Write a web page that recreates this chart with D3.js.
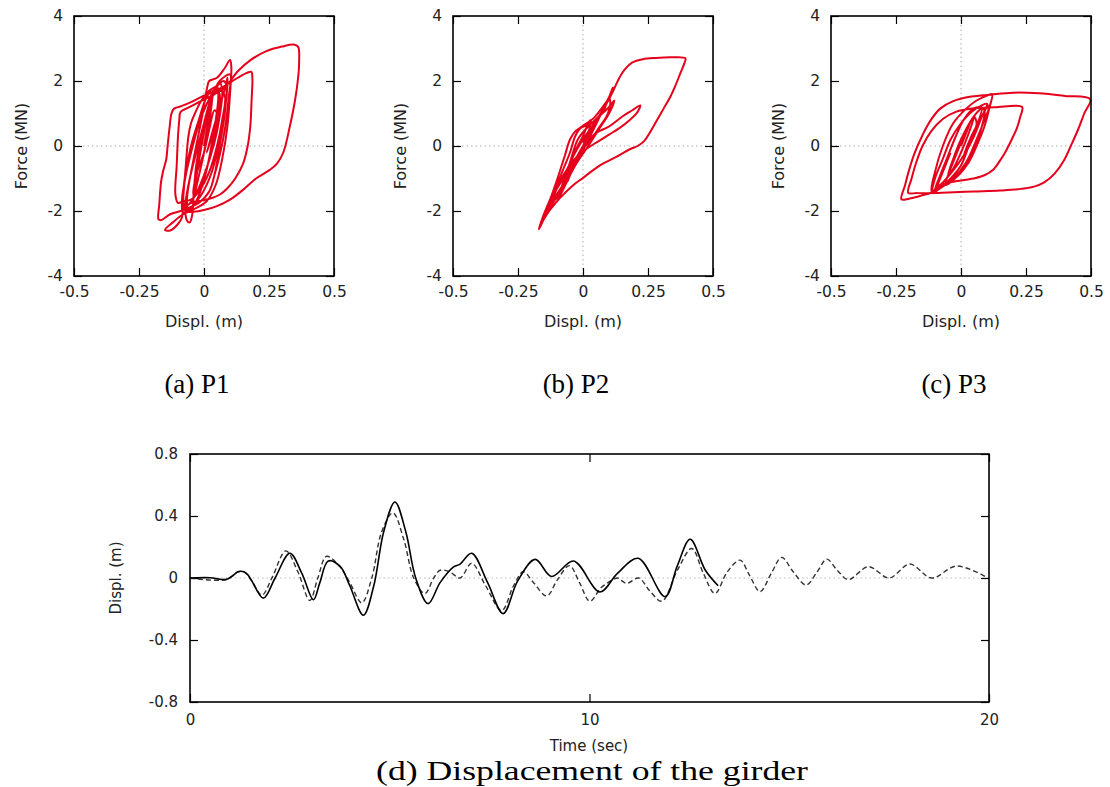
<!DOCTYPE html>
<html>
<head>
<meta charset="utf-8">
<script src="https://cdn.jsdelivr.net/npm/d3@7"></script>
<style>
  body { margin: 0; background: #fff; }
  .tick text { fill: #222; }
  .caption { font-family: "Liberation Serif", "Times New Roman", Times, serif; }
</style>
</head>
<body>
<script>
// hysteresis loops, [displ (m), force (MN)]
const p1Loop = [
  [0,0],[0.015,0.7],[0.03,1.4],[0.035,1.7],[0.025,1.0],[0,-0.2],[-0.025,-1.1],[-0.04,-1.6],[-0.03,-1.0],[-0.005,0.2],[0.025,1.3],[0.05,1.85],[0.055,1.5],[0.035,0.3],[0.005,-0.9],[-0.03,-1.7],[-0.06,-2.0],[-0.065,-1.6],[-0.04,-0.4],[-0.01,0.8],[0.015,1.9],[0.02,2.0],
  [0.05,2.1],[0.08,2.4],[0.1,2.65],[0.105,2.45],[0.1,1.6],[0.09,0.6],[0.07,-0.4],[0.045,-1.2],[0.01,-1.7],[-0.04,-1.95],[-0.08,-2.1],
  [-0.12,-2.35],[-0.15,-2.58],[-0.13,-2.6],[-0.1,-2.4],[-0.085,-2.2],[-0.08,-1.6],[-0.07,-0.6],[-0.06,0.3],[-0.05,0.7],[-0.035,1.0],[-0.01,1.4],[0.02,1.7],[0.05,1.85],[0.075,2.0],[0.085,1.9],[0.08,1.0],[0.06,0],[0.04,-0.9],[0.02,-1.4],[-0.02,-1.75],[-0.06,-1.9],[-0.09,-2.0],[-0.13,-2.1],[-0.165,-2.28],[-0.175,-2.25],
  [-0.172,-1.8],[-0.165,-1.1],[-0.158,-0.8],[-0.145,-0.4],[-0.14,0],[-0.132,0.6],[-0.125,1.0],[-0.115,1.15],[-0.09,1.22],[-0.05,1.35],[0,1.55],[0.04,1.68],[0.08,1.85],[0.13,2.1],[0.165,2.25],[0.182,2.28],[0.186,2.1],[0.183,1.4],[0.178,0.6],[0.168,0],[0.15,-0.55],[0.12,-1.0],[0.09,-1.3],[0.06,-1.5],[0.03,-1.6],[-0.01,-1.68],[-0.05,-1.75],[-0.07,-1.9],[-0.065,-2.3],[-0.055,-2.35],[-0.045,-2.1],[-0.04,-1.5],
  [-0.03,-0.6],[-0.01,0.3],[0.01,1.0],[0.03,1.5],[0.06,1.7],[0.08,1.55],[0.07,0.8],[0.05,0],[0.02,-0.8],[-0.02,-1.4],[-0.05,-1.65],[-0.08,-1.7],[-0.1,-1.75],[-0.11,-1.5],[-0.105,-0.6],[-0.1,0.3],[-0.095,0.8],[-0.09,1.05],[-0.06,1.18],[-0.02,1.35],[0.03,1.55],[0.08,1.8],
  [0.13,2.3],[0.18,2.65],[0.24,2.92],[0.3,3.06],[0.345,3.12],[0.362,3.05],[0.366,2.6],[0.362,2.1],[0.35,1.4],[0.33,0.6],[0.305,-0.2],[0.28,-0.55],[0.25,-0.75],[0.2,-1.0],[0.15,-1.35],[0.1,-1.65],[0.05,-1.85],[0,-1.97],[-0.04,-2.02],[-0.07,-2.0],[-0.08,-1.5],
  [-0.07,-0.8],[-0.05,0],[-0.02,0.8],[0.01,1.5],[0.04,1.8],[0.06,1.6],[0.05,0.8],[0.03,0],[0.01,-0.7],[-0.02,-1.3],[-0.04,-1.5],[-0.03,-0.9],[0,-0.2],[0.02,0.5],[0.04,1.1],[0.05,1.0],[0.03,0.3],[0.01,-0.2],
  [0.06,1.2],[0.085,1.9],[0.09,2.1],[0.085,1.4],[0.06,0.2],[0.03,-0.8],[-0.01,-1.5],[-0.05,-1.9],[-0.08,-2.05],[-0.085,-1.7],[-0.07,-0.9],[-0.04,0.1],[-0.01,0.9],[0.03,1.6],[0.06,1.95],[0.07,1.7],[0.06,0.9],[0.04,0.1],[0,-0.9],[-0.04,-1.6],[-0.07,-1.85],[-0.06,-1.2],[-0.03,-0.2],[0,0.7],[0.02,1.3],[0.04,1.7],[0.06,2.0],[0.1,2.2],[0.095,1.5],[0.08,0.5],[0.06,-0.3],[0.04,-0.9]
];

const p2Loop = [
  [0,0],[0.02,0.3],[0.04,0.5],[0.02,0.2],[-0.02,-0.4],[-0.05,-0.9],[-0.06,-1.1],[-0.04,-0.6],[0,0],[0.03,0.5],[0.05,0.7],[0.03,0.4],[-0.01,-0.3],[-0.05,-0.9],[-0.08,-1.4],[-0.1,-1.7],[-0.08,-1.2],[-0.05,-0.5],[-0.02,0.2],[0.02,0.6],[0.06,0.9],[0.1,1.2],[0.12,1.4],[0.1,1.0],[0.06,0.5],[0.02,0],[-0.03,-0.6],[-0.07,-1.2],[-0.12,-1.8],[-0.15,-2.2],[-0.17,-2.55],
  [-0.15,-2.1],[-0.12,-1.5],[-0.09,-0.8],[-0.07,-0.3],[-0.05,0.2],[-0.03,0.45],[0,0.62],[0.04,0.85],[0.08,1.25],[0.11,1.6],[0.125,1.85],[0.14,2.1],[0.16,2.35],[0.19,2.57],[0.23,2.67],[0.28,2.71],[0.34,2.73],[0.394,2.7],[0.39,2.55],[0.375,2.25],[0.355,1.85],[0.335,1.5],[0.31,1.15],[0.285,0.8],[0.26,0.45],[0.235,0.15],[0.21,0],[0.18,-0.1],[0.13,-0.33],[0.08,-0.53],[0.05,-0.68],[0,-0.98],[-0.04,-1.22],[-0.07,-1.45],[-0.1,-1.7],[-0.13,-2.0],[-0.15,-2.25],[-0.17,-2.56],
  [-0.14,-1.9],[-0.1,-1.3],[-0.06,-0.7],[-0.03,-0.2],[0,0.2],[0.03,0.55],[0.06,0.9],[0.09,1.3],[0.11,1.6],[0.115,1.8],[0.1,1.5],[0.07,1.0],[0.04,0.5],[0,0],[-0.04,-0.55],[-0.08,-1.05],[-0.12,-1.6],[-0.14,-2.0],[-0.11,-1.6],[-0.07,-1.1],[-0.03,-0.5],[0.01,0.1],[0.05,0.4],
  [0.1,0.6],[0.15,0.9],[0.19,1.1],[0.22,1.25],[0.21,1.05],[0.18,0.8],[0.14,0.55],[0.1,0.35],[0.06,0.15],[0.02,-0.05],[-0.02,-0.3],[-0.06,-0.7],[-0.09,-1.1],[-0.11,-1.5],[-0.12,-1.7],
  [-0.1,-1.2],[-0.07,-0.6],[-0.05,-0.2],[-0.03,0.3],[-0.01,0.55],[0.02,0.65],[0.05,0.8],[0.08,1.1],[0.1,1.5],[0.105,1.3],[0.09,0.9],[0.06,0.55],[0.04,0.3],[0,-0.1],[-0.04,-0.6],[-0.07,-1.0],[-0.05,-0.6],[-0.03,-0.15],[0,0.3],[0.02,0.7],[0.03,0.8],[0.02,0.4],[0,0.1]
];

const p3Loop = [
  [0,0],[0.02,0.4],[0.04,0.8],[0.05,0.9],[0.03,0.4],[0,-0.2],[-0.03,-0.7],[-0.05,-0.9],[-0.03,-0.4],[0,0.2],[0.04,0.8],[0.07,1.1],[0.08,1.15],[0.06,0.6],[0.03,0],[0,-0.6],[-0.04,-1.0],[-0.08,-1.3],[-0.1,-1.4],
  [-0.15,-1.52],[-0.2,-1.62],[-0.229,-1.64],[-0.215,-1.2],[-0.2,-0.75],[-0.18,-0.25],[-0.15,0.3],[-0.12,0.75],[-0.08,1.15],[-0.03,1.38],[0.04,1.52],[0.113,1.58],[0.2,1.64],[0.3,1.62],[0.4,1.54],[0.497,1.44],
  [0.474,1.0],[0.45,0.5],[0.425,0.05],[0.397,-0.43],[0.36,-0.85],[0.32,-1.12],[0.281,-1.25],[0.22,-1.33],[0.15,-1.37],[0.05,-1.4],[-0.05,-1.43],[-0.12,-1.45],[-0.17,-1.45],[-0.203,-1.44],
  [-0.19,-1.0],[-0.172,-0.5],[-0.148,0],[-0.115,0.45],[-0.07,0.83],[-0.02,1.05],[0.05,1.16],[0.13,1.19],[0.235,1.2],[0.228,0.9],[0.215,0.55],[0.195,0.2],[0.175,-0.12],[0.15,-0.45],[0.125,-0.72],[0.09,-0.9],[0.048,-1.0],[-0.03,-1.1],[-0.08,-1.2],[-0.113,-1.4],
  [-0.1,-0.8],[-0.07,0],[-0.03,0.7],[0.02,1.15],[0.06,1.4],[0.1,1.55],[0.12,1.6],[0.11,1.2],[0.09,0.6],[0.06,0],[0.03,-0.5],[-0.01,-0.9],[-0.05,-1.15],[-0.09,-1.3],[-0.1,-1.35],
  [-0.08,-0.9],[-0.05,-0.3],[-0.02,0.3],[0.01,0.8],[0.04,1.1],[0.07,1.2],[0.09,1.1],[0.08,0.6],[0.06,0.1],[0.03,-0.4],[0,-0.8],[-0.03,-1.05],[-0.06,-1.2],[-0.04,-0.7],[-0.01,-0.1],[0.02,0.5],[0.05,0.9],[0.06,0.7],[0.04,0.2],[0.01,-0.3],
  [0.04,0.3],[0.08,0.9],[0.1,1.2],[0.11,1.25],[0.09,0.8],[0.06,0.2],[0.02,-0.5],[-0.03,-1.0],[-0.08,-1.3],[-0.11,-1.45],[-0.1,-1.0],[-0.07,-0.4],[-0.04,0.2],[0,0.7],[0.04,1.05],[0.08,1.25],[0.1,1.3],[0.08,0.9],[0.05,0.3],[0.01,-0.3],[-0.04,-0.85],[-0.08,-1.2],[-0.09,-1.25],[-0.07,-0.8],[-0.04,-0.2]
];

// girder displacement, [time (sec), displ (m)]
const girderSolid = [
  [0,0],[0.5,0.002],[0.9,-0.01],[1.05,0.01],[1.2,0.04],[1.35,0.04],[1.45,0.02],[1.55,-0.02],[1.84,-0.13],[2.13,0],[2.5,0.16],[2.8,0.03],[3.09,-0.14],[3.25,-0.03],[3.46,0.11],[3.76,0.075],[4.0,-0.05],[4.34,-0.24],[4.6,-0.05],[4.85,0.3],[5.13,0.49],[5.4,0.3],[5.65,0],[5.96,-0.165],[6.26,-0.03],[6.59,0.07],[6.76,0.09],[7.05,0.16],[7.45,-0.03],[7.84,-0.23],[8.2,-0.02],[8.64,0.12],[9.05,0.01],[9.6,0.11],[10.26,-0.09],[10.7,0.03],[11.22,0.127],[11.89,-0.12],[12.2,0.08],[12.52,0.25],[12.9,0.05],[13.22,-0.05]
];
const girderDashed = [
  [0,0],[0.9,-0.01],[1.2,0.04],[1.35,0.04],[1.55,-0.02],[1.8,-0.11],[2.05,0],[2.4,0.175],[2.7,0.04],[3.0,-0.145],[3.2,0],[3.42,0.14],[3.76,0.07],[4.0,-0.03],[4.3,-0.16],[4.55,0],[4.8,0.3],[5.08,0.42],[5.35,0.25],[5.6,0],[5.88,-0.1],[6.1,0],[6.26,0.05],[6.5,0.04],[6.76,0],[7.05,0.095],[7.4,-0.05],[7.8,-0.21],[8.1,-0.05],[8.34,0.04],[8.6,-0.03],[8.93,-0.116],[9.2,-0.01],[9.5,0.08],[9.75,-0.03],[10.01,-0.15],[10.3,-0.06],[10.6,-0.01],[10.7,0],[10.93,-0.035],[11.23,0],[11.5,-0.08],[11.81,-0.15],[12.2,0.05],[12.56,0.19],[12.85,0.03],[13.14,-0.1],[13.45,0.04],[13.77,0.115],[14.0,0.02],[14.27,-0.088],[14.55,0.03],[14.81,0.133],[15.1,0.04],[15.42,-0.045],[15.7,0.04],[15.94,0.122],[16.2,0.05],[16.48,-0.01],[16.98,0.073],[17.5,0],[18.02,0.09],[18.56,0],[19.19,0.077],[19.94,0.005]
];

const loopXTicks = [-0.5, -0.25, 0, 0.25, 0.5];
const loopYTicks = [-4, -2, 0, 2, 4];
const timeTicks = [0, 10, 20];
const displTicks = [-0.8, -0.4, 0, 0.4, 0.8];
const captions = ["(a) P1", "(b) P2", "(c) P3", "(d) Displacement of the girder"];

const sans = "'DejaVu Sans', sans-serif";

const svg = d3.select("body").append("svg")
  .attr("width", 1110)
  .attr("height", 787);

function styleAxis(g, size) {
  g.select(".domain").remove();
  g.selectAll(".tick line").attr("stroke", "#000").attr("stroke-width", 1.2);
  g.attr("font-family", sans).attr("font-size", size);
}

// one force-displacement panel
function drawLoop(left, data, caption) {
  var top = 16, side = 260;
  var x = d3.scaleLinear().domain([-0.5, 0.5]).range([left, left + side]);
  var y = d3.scaleLinear().domain([-4, 4]).range([top + side, top]);
  var g = svg.append("g");

  //dotted zero lines
  g.append("line").attr("x1", x(0)).attr("x2", x(0)).attr("y1", top).attr("y2", top + side)
    .attr("stroke", "#aaa").attr("stroke-dasharray", "1.5,3");
  g.append("line").attr("x1", left).attr("x2", left + side).attr("y1", y(0)).attr("y2", y(0))
    .attr("stroke", "#aaa").attr("stroke-dasharray", "1.5,3");

  g.append("g").attr("transform", "translate(0," + (top + side) + ")")
    .call(d3.axisBottom(x).tickValues(loopXTicks).tickSize(-8).tickPadding(10).tickFormat(d => String(d)))
    .call(styleAxis, 15.5);
  g.append("g").attr("transform", "translate(0," + top + ")")
    .call(d3.axisTop(x).tickValues(loopXTicks).tickSize(-8).tickFormat(""))
    .call(styleAxis, 15.5);
  g.append("g").attr("transform", "translate(" + left + ",0)")
    .call(d3.axisLeft(y).tickValues(loopYTicks).tickSize(-8).tickPadding(11).tickFormat(d => String(d)))
    .call(styleAxis, 15.5);
  g.append("g").attr("transform", "translate(" + (left + side) + ",0)")
    .call(d3.axisRight(y).tickValues(loopYTicks).tickSize(-8).tickFormat(""))
    .call(styleAxis, 15.5);

  var line = d3.line()
    .x(d => x(d[0]))
    .y(d => y(d[1]))
    .curve(d3.curveCatmullRom.alpha(0.5));
  g.append("path").datum(data)
    .attr("d", line)
    .attr("fill", "none")
    .attr("stroke", "#e5001c")
    .attr("stroke-width", 2)
    .attr("stroke-linejoin", "round");

  g.append("rect").attr("x", left).attr("y", top).attr("width", side).attr("height", side)
    .attr("fill", "none").attr("stroke", "#000").attr("stroke-width", 1.6);

  g.append("text").attr("x", left + side / 2).attr("y", 327)
    .attr("text-anchor", "middle").attr("font-family", sans).attr("font-size", 16).attr("fill", "#222")
    .text("Displ. (m)");
  g.append("text").attr("transform", "translate(" + (left - 47) + "," + (top + side / 2) + ") rotate(-90)")
    .attr("text-anchor", "middle").attr("font-family", sans).attr("font-size", 16).attr("fill", "#222")
    .text("Force (MN)");
  g.append("text").attr("class", "caption").attr("x", left + side / 2 - 7).attr("y", 393)
    .attr("text-anchor", "middle").attr("font-size", 27).attr("fill", "#000")
    .text(caption);
}

drawLoop(74, p1Loop, captions[0]);
drawLoop(453, p2Loop, captions[1]);
drawLoop(831, p3Loop, captions[2]);

// girder time history
var tx = d3.scaleLinear().domain([0, 20]).range([190, 989]);
var ty = d3.scaleLinear().domain([-0.8, 0.8]).range([702, 454]);
var gd = svg.append("g");

gd.append("line").attr("x1", 190).attr("x2", 989).attr("y1", ty(0)).attr("y2", ty(0))
  .attr("stroke", "#bbb").attr("stroke-dasharray", "1.5,3");

gd.append("g").attr("transform", "translate(0,702)")
  .call(d3.axisBottom(tx).tickValues(timeTicks).tickSize(-8).tickPadding(12).tickFormat(d => String(d)))
  .call(styleAxis, 15);
gd.append("g").attr("transform", "translate(0,454)")
  .call(d3.axisTop(tx).tickValues(timeTicks).tickSize(-8).tickFormat(""))
  .call(styleAxis, 15);
gd.append("g").attr("transform", "translate(190,0)")
  .call(d3.axisLeft(ty).tickValues(displTicks).tickSize(-8).tickPadding(12).tickFormat(d => String(d)))
  .call(styleAxis, 15);
gd.append("g").attr("transform", "translate(989,0)")
  .call(d3.axisRight(ty).tickValues(displTicks).tickSize(-8).tickFormat(""))
  .call(styleAxis, 15);

var tline = d3.line()
  .x(d => tx(d[0]))
  .y(d => ty(d[1]))
  .curve(d3.curveCatmullRom.alpha(0.5));

gd.append("path").datum(girderDashed)
  .attr("d", tline).attr("fill", "none")
  .attr("stroke", "#333").attr("stroke-width", 1.4).attr("stroke-dasharray", "5,3");
gd.append("path").datum(girderSolid)
  .attr("d", tline).attr("fill", "none")
  .attr("stroke", "#000").attr("stroke-width", 1.6);

gd.append("rect").attr("x", 190).attr("y", 454).attr("width", 799).attr("height", 248)
  .attr("fill", "none").attr("stroke", "#000").attr("stroke-width", 1.6);

gd.append("text").attr("x", 589).attr("y", 751)
  .attr("text-anchor", "middle").attr("font-family", sans).attr("font-size", 15).attr("fill", "#222")
  .text("Time (sec)");
gd.append("text").attr("transform", "translate(121,578) rotate(-90)")
  .attr("text-anchor", "middle").attr("font-family", sans).attr("font-size", 15).attr("fill", "#222")
  .text("Displ. (m)");
gd.append("text").attr("class", "caption").attr("x", 592).attr("y", 780)
  .attr("text-anchor", "middle").attr("font-size", 27).attr("fill", "#000")
  .attr("textLength", 432).attr("lengthAdjust", "spacingAndGlyphs")
  .text(captions[3]);
</script>
</body>
</html>
